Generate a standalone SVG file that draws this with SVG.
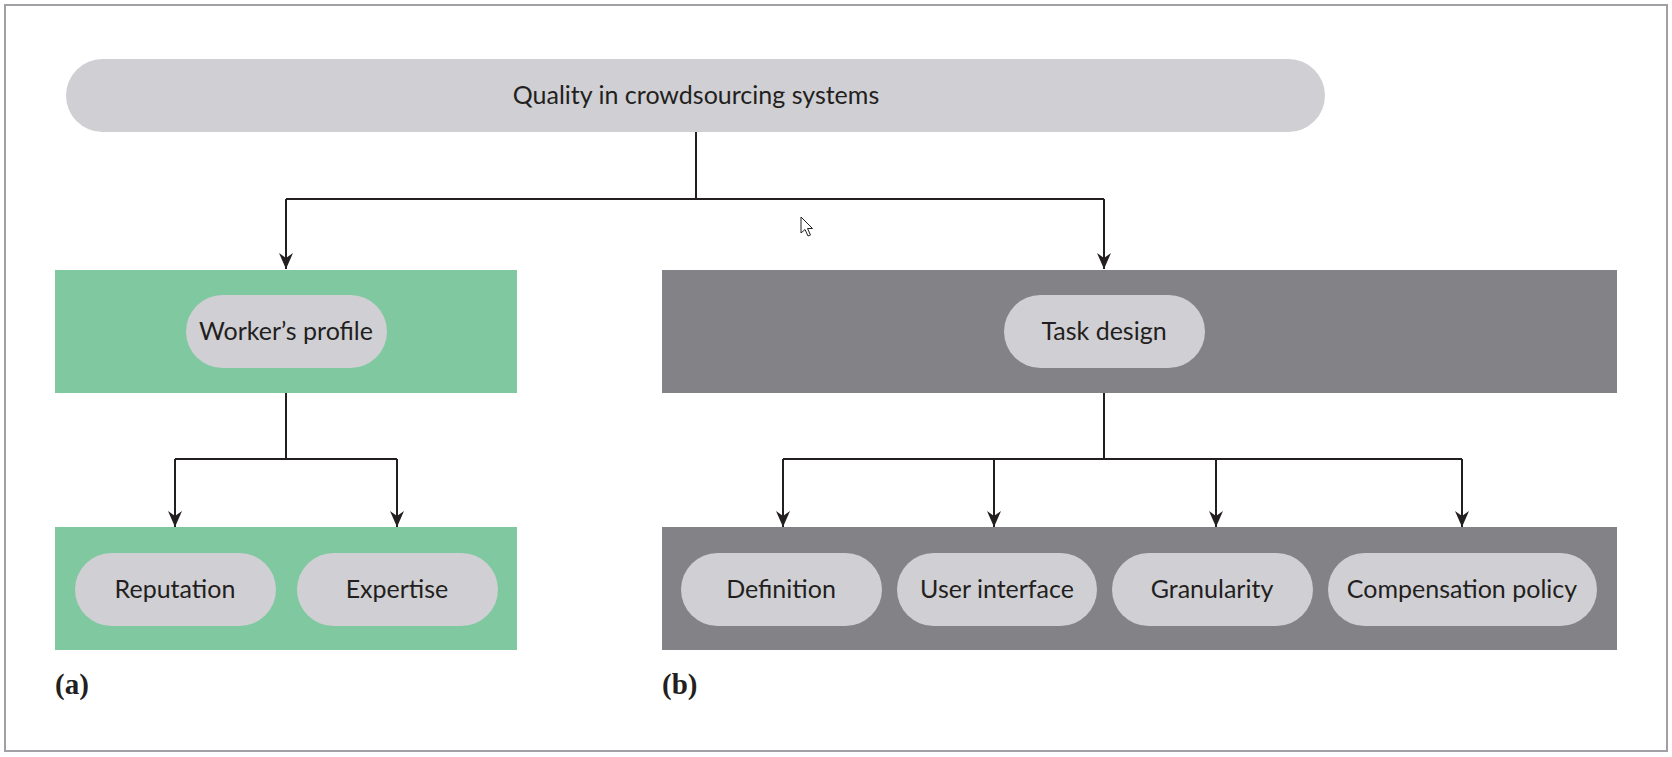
<svg xmlns="http://www.w3.org/2000/svg" width="1672" height="757" viewBox="0 0 1672 757">
<style>
.pill{fill:#d0cfd4}
.green{fill:#80c8a0}
.gray{fill:#838287}
.lbl{font-family:Lato,"Noto Sans","Liberation Sans",sans-serif;font-size:25px;fill:#231f20;text-anchor:middle}
.cap{font-family:"Liberation Serif","DejaVu Serif",serif;font-size:29px;font-weight:bold;fill:#231f20}
.conn{fill:none;stroke:#231f20;stroke-width:2}
</style>
<defs>
<marker id="arr" markerUnits="userSpaceOnUse" viewBox="0 0 16 14" refX="16" refY="7" markerWidth="16" markerHeight="14" orient="auto">
<path d="M0,0 L16,7 L0,14 L5,7 Z" fill="#231f20"/>
</marker>
</defs>
<rect x="0" y="0" width="1672" height="757" fill="#ffffff"/>
<rect x="5" y="5" width="1662" height="746" fill="#ffffff" stroke="#a0a0a5" stroke-width="2"/>

<g id="panel-a-top"><rect class="green" x="55" y="270" width="462" height="123"/></g>
<g id="panel-a-bottom"><rect class="green" x="55" y="527" width="462" height="123"/></g>
<g id="panel-b-top"><rect class="gray" x="662" y="270" width="955" height="123"/></g>
<g id="panel-b-bottom"><rect class="gray" x="662" y="527" width="955" height="123"/></g>

<g id="connectors">
<path class="conn" d="M696,132 V199"/>
<path class="conn" d="M286,199 H1104"/>
<path class="conn" d="M286,199 V269" marker-end="url(#arr)"/>
<path class="conn" d="M1104,199 V269" marker-end="url(#arr)"/>
<path class="conn" d="M286,393 V459"/>
<path class="conn" d="M175,459 H397"/>
<path class="conn" d="M175,459 V527" marker-end="url(#arr)"/>
<path class="conn" d="M397,459 V527" marker-end="url(#arr)"/>
<path class="conn" d="M1104,393 V459"/>
<path class="conn" d="M783,459 H1462"/>
<path class="conn" d="M783,459 V527" marker-end="url(#arr)"/>
<path class="conn" d="M994,459 V527" marker-end="url(#arr)"/>
<path class="conn" d="M1216,459 V527" marker-end="url(#arr)"/>
<path class="conn" d="M1462,459 V527" marker-end="url(#arr)"/>
</g>

<g id="quality">
<rect class="pill" x="66" y="59" width="1259" height="73" rx="36.5"/>
<text class="lbl" x="696" y="104">Quality in crowdsourcing systems</text>
</g>
<g id="workers-profile">
<rect class="pill" x="186" y="295" width="201" height="73" rx="36.5"/>
<text class="lbl" x="286" y="340">Worker’s profile</text>
</g>
<g id="task-design">
<rect class="pill" x="1004" y="295" width="201" height="73" rx="36.5"/>
<text class="lbl" x="1104" y="340">Task design</text>
</g>
<g id="reputation">
<rect class="pill" x="75" y="553" width="201" height="73" rx="36.5"/>
<text class="lbl" x="175" y="598">Reputation</text>
</g>
<g id="expertise">
<rect class="pill" x="297" y="553" width="201" height="73" rx="36.5"/>
<text class="lbl" x="397" y="598">Expertise</text>
</g>
<g id="definition">
<rect class="pill" x="681" y="553" width="201" height="73" rx="36.5"/>
<text class="lbl" x="781" y="598">Definition</text>
</g>
<g id="user-interface">
<rect class="pill" x="897" y="553" width="200" height="73" rx="36.5"/>
<text class="lbl" x="997" y="598">User interface</text>
</g>
<g id="granularity">
<rect class="pill" x="1112" y="553" width="201" height="73" rx="36.5"/>
<text class="lbl" x="1212" y="598">Granularity</text>
</g>
<g id="compensation-policy">
<rect class="pill" x="1328" y="553" width="269" height="73" rx="36.5"/>
<text class="lbl" x="1462" y="598">Compensation policy</text>
</g>

<text class="cap" x="55" y="694">(a)</text>
<text class="cap" x="662" y="694">(b)</text>

<path d="M801,217 L801,233 L805,229.5 L808,236 L810.5,235 L807.5,228.5 L812.5,228.5 Z" fill="#ffffff" stroke="#231f20" stroke-width="1"/>
</svg>
